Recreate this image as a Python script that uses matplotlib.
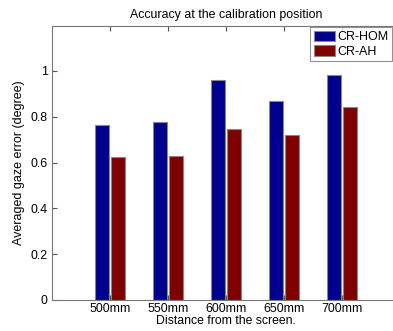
import numpy as np
import matplotlib
matplotlib.use('Agg')
import matplotlib.pyplot as plt

plt.rcParams['font.family'] = ['Liberation Sans', 'DejaVu Sans']

distances = ['500mm', '550mm', '600mm', '650mm', '700mm']
cr_hom = [0.763, 0.776, 0.959, 0.870, 0.980]
cr_ah = [0.623, 0.629, 0.745, 0.719, 0.841]

x = np.arange(1, len(distances) + 1)
w = 0.24

fig = plt.figure(figsize=(3.93, 3.31), dpi=100)
ax = fig.add_axes([0.1323, 0.0937, 0.8855, 0.8278])

ax.bar(x - 0.145, cr_hom, w, color='#00008f', edgecolor='#888888', linewidth=0.8, label='CR-HOM')
ax.bar(x + 0.14, cr_ah, w, color='#800000', edgecolor='#888888', linewidth=0.8, label='CR-AH')

ax.set_xlim(0, 6)
ax.set_ylim(0, 1.196)
ax.set_xticks(x)
ax.set_xticklabels(distances)
ax.set_yticks([0, 0.2, 0.4, 0.6, 0.8, 1.0])
ax.set_yticklabels(['0', '0.2', '0.4', '0.6', '0.8', '1'])
ax.tick_params(direction='in', length=3.5, labelsize=8.9, top=True, right=True,
               color='#555555')
ax.tick_params(axis='y', pad=3)
ax.tick_params(axis='x', pad=2)
for s in ax.spines.values():
    s.set_color('#777777')
    s.set_linewidth(0.8)

ax.set_title('Accuracy at the calibration position', fontsize=8.9, pad=6)
ax.set_xlabel('Distance from the screen.', fontsize=8.8, labelpad=0)
ax.set_ylabel('Averaged gaze error (degree)', fontsize=9, labelpad=4)

leg = fig.legend(loc='upper left', bbox_to_anchor=(310 / 393, 1 - 27 / 331),
                 fontsize=9, frameon=True, fancybox=False, edgecolor='#777777',
                 handlelength=1.7, handleheight=0.9, handletextpad=0.2,
                 borderpad=0.3, labelspacing=0.15, borderaxespad=0)
leg.get_frame().set_linewidth(0.8)

plt.savefig('out.png', dpi=100)
